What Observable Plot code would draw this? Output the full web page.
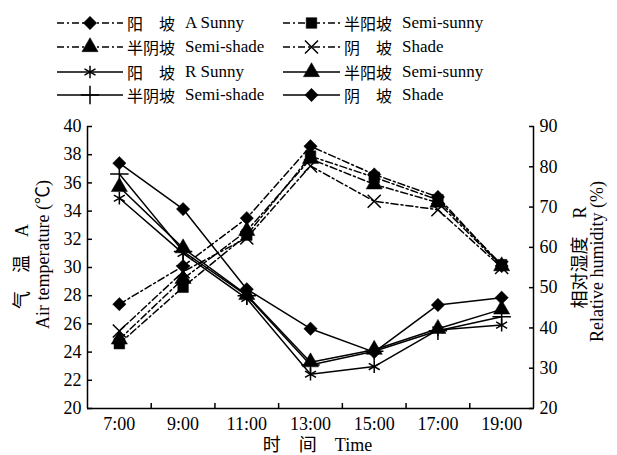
<!DOCTYPE html>
<html>
<head>
<meta charset="utf-8">
<script src="https://cdn.jsdelivr.net/npm/d3@7"></script>
<script src="https://cdn.jsdelivr.net/npm/@observablehq/plot@0.6"></script>
<style>
  body { margin: 0; background: #fff; width: 617px; height: 455px; overflow: hidden;
         font-family: "Liberation Serif", "Noto Sans CJK SC", serif; color: #000; }
  #legend { position: relative; width: 617px; height: 108px; }
  .item { position: absolute; display: flex; align-items: center; height: 22px; white-space: pre; }
  .item svg { display: block; margin-right: 4px; }
  .zh { display: inline-block; width: 48px; font-size: 16px; font-family: "Noto Sans CJK SC", sans-serif; line-height: 22px; }
  .en { display: inline-block; margin-left: 10px; font-size: 17px; line-height: 22px; }
</style>
</head>
<body>
<div id="legend"></div>
<div id="chart"></div>
<script>
// ---- data ----
const times = [7, 9, 11, 13, 15, 17, 19];
const timeLabels = ["7:00", "9:00", "11:00", "13:00", "15:00", "17:00", "19:00"];

// Air temperature (°C), left axis
const tempSunny     = [27.4, 30.1, 33.5, 38.6, 36.6, 35.0, 30.1];
const tempSemiSunny = [24.6, 28.6, 32.3, 37.9, 36.4, 34.8, 30.2];
const tempSemiShade = [24.9, 29.2, 32.6, 37.7, 35.9, 34.6, 30.1];
const tempShade     = [25.5, 29.7, 32.1, 37.2, 34.7, 34.1, 30.0];

// Relative humidity (%), right axis
const humSunny     = [72.2, 58.5, 47.3, 28.5, 30.4, 39.5, 40.7];
const humSemiSunny = [75.0, 59.8, 48.2, 31.5, 34.6, 39.8, 44.6];
const humSemiShade = [78.2, 59.0, 48.0, 30.8, 34.2, 39.3, 42.8];
const humShade     = [80.9, 69.5, 49.6, 39.8, 34.0, 45.7, 47.5];

const tempTicks = [20, 22, 24, 26, 28, 30, 32, 34, 36, 38, 40];
const humTicks = [20, 30, 40, 50, 60, 70, 80, 90];
const xMinorTicks = [8, 10, 12, 14, 16, 18];

const legendZh = ["阳　坡", "半阳坡", "半阴坡", "阴　坡", "阳　坡", "半阳坡", "半阴坡", "阴　坡"];
const legendEn = ["A Sunny", "Semi-sunny", "Semi-shade", "Shade", "R Sunny", "Semi-sunny", "Semi-shade", "Shade"];

// ---- helpers ----
const hum2y = h => 20 + (h - 20) * 20 / 70;
const y2hum = v => 20 + (v - 20) * 70 / 20;
const DASH = "7,3,2,3";

const series = [
  {values: tempSunny,     isHum: false, symbol: "diamond2", filled: true,  dashed: true},
  {values: tempSemiSunny, isHum: false, symbol: "square",   filled: true,  dashed: true},
  {values: tempSemiShade, isHum: false, symbol: "triangle", filled: true,  dashed: true},
  {values: tempShade,     isHum: false, symbol: "times",    filled: false, dashed: true},
  {values: humSunny,      isHum: true,  symbol: "asterisk", filled: false, dashed: false},
  {values: humSemiSunny,  isHum: true,  symbol: "triangle", filled: true,  dashed: false},
  {values: humSemiShade,  isHum: true,  symbol: "plus",     filled: false, dashed: false},
  {values: humShade,      isHum: true,  symbol: "diamond2", filled: true,  dashed: false}
];

const d3Symbols = {
  diamond2: d3.symbolDiamond2, square: d3.symbolSquare, triangle: d3.symbolTriangle,
  times: d3.symbolTimes, asterisk: d3.symbolAsterisk, plus: d3.symbolPlus
};

// ---- legend ----
const legend = d3.select("#legend");
const rowY = [23, 47, 72, 95];
const colX = [57, 283];
const swW = [66, 57];
series.forEach((s, i) => {
  const row = Math.floor(i / 2), col = i % 2;
  const item = legend.append("div").attr("class", "item")
    .style("left", colX[col] + "px").style("top", (rowY[row] - 11) + "px");
  const w = swW[col];
  const svg = item.append("svg").attr("width", w).attr("height", 22);
  svg.append("line").attr("x1", 0).attr("x2", w).attr("y1", 11).attr("y2", 11)
    .attr("stroke", "#000").attr("stroke-width", 1.5)
    .attr("stroke-dasharray", s.dashed ? DASH : null);
  svg.append("path")
    .attr("d", d3.symbol(d3Symbols[s.symbol], Math.PI * 36)())
    .attr("transform", `translate(${w / 2},11)`)
    .attr("fill", s.filled ? "#000" : "none")
    .attr("stroke", "#000").attr("stroke-width", s.filled ? 0.5 : 1.5);
  item.append("span").attr("class", "zh").text(legendZh[i]);
  item.append("span").attr("class", "en").text(legendEn[i]);
});

// ---- chart ----
const marks = [];
series.forEach((s, k) => {
  const rows = times.map((t, i) => ({time: t, y: s.isHum ? hum2y(s.values[i]) : s.values[i]}));
  marks.push(Plot.line(rows, {x: "time", y: "y", stroke: "#000", strokeWidth: 1.5,
    strokeDasharray: s.dashed ? DASH : undefined}));
  marks.push(Plot.dot(rows, {x: "time", y: "y", symbol: s.symbol, r: 6,
    fill: s.filled ? "#000" : "none", stroke: "#000", strokeWidth: s.filled ? 0.5 : 1.5}));
});

const chart = Plot.plot({
  width: 617,
  height: 347,
  marginTop: 18,
  marginBottom: 47,
  marginLeft: 87,
  marginRight: 84,
  style: {fontFamily: "'Liberation Serif', 'Noto Sans CJK SC', serif", fontSize: "18px", background: "#fff", color: "#000"},
  x: {type: "linear", domain: [6, 20]},
  y: {domain: [20, 40]},
  marks: [
    Plot.ruleX([6, 20], {stroke: "#000", strokeWidth: 1.5}),
    Plot.ruleY([20], {stroke: "#000", strokeWidth: 1.5}),
    Plot.axisY(tempTicks, {anchor: "left", tickSize: 0, tickPadding: 6, label: null}),
    Plot.axisY(tempTicks, {anchor: "left", tickSize: 5, dx: 5, tickFormat: () => "", label: null, strokeWidth: 1.5}),
    Plot.axisY(humTicks.map(hum2y), {anchor: "right", tickSize: 0, tickPadding: 6, label: null,
      tickFormat: v => String(Math.round(y2hum(v)))}),
    Plot.axisY(humTicks.map(hum2y), {anchor: "right", tickSize: 5, dx: -5, tickFormat: () => "", label: null, strokeWidth: 1.5}),
    Plot.axisX(times, {anchor: "bottom", tickSize: 0, tickPadding: 9, label: null,
      tickFormat: d => timeLabels[times.indexOf(d)]}),
    Plot.axisX(xMinorTicks, {anchor: "bottom", tickSize: 5, dy: -5, tickFormat: () => "", label: null, strokeWidth: 1.5}),
    Plot.text(["气　温　A"], {frameAnchor: "left", textAnchor: "middle", lineAnchor: "middle", dx: -65, dy: -1, rotate: -90, fontSize: 18}),
    Plot.text(["Air temperature (℃)"], {frameAnchor: "left", textAnchor: "middle", lineAnchor: "middle", dx: -44, dy: -13, rotate: -90, fontSize: 18}),
    Plot.text(["相对湿度　R"], {frameAnchor: "right", textAnchor: "middle", lineAnchor: "middle", dx: 47, dy: -10, rotate: -90, fontSize: 18}),
    Plot.text(["Relative humidity (%)"], {frameAnchor: "right", textAnchor: "middle", lineAnchor: "middle", dx: 64, dy: -6, rotate: -90, fontSize: 18}),
    Plot.text(["时　间　Time"], {frameAnchor: "bottom", textAnchor: "middle", lineAnchor: "middle", dx: 7, dy: 37, fontSize: 18}),
    ...marks
  ]
});
document.getElementById("chart").appendChild(chart);
</script>
</body>
</html>
